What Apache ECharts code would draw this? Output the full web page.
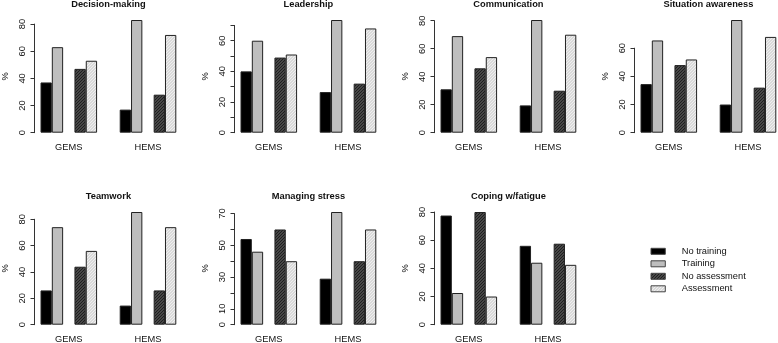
<!DOCTYPE html>
<html>
<head>
<meta charset="utf-8">
<script src="https://cdn.jsdelivr.net/npm/echarts@6/dist/echarts.min.js"></script>
<style>
  html, body { margin: 0; padding: 0; background: #fff; }
  #chart { width: 778px; height: 343px; }
</style>
</head>
<body>
<div id="chart"></div>
<script>
// panels and groups
let panels = ['Decision-making', 'Leadership', 'Communication', 'Situation awareness',
              'Teamwork', 'Managing stress', 'Coping w/fatigue'];
let groups = ['GEMS', 'HEMS'];
let seriesNames = ['No training', 'Training', 'No assessment', 'Assessment'];

// % per panel, [GEMS, HEMS]
let noTraining   = [[37, 17], [40, 26.5], [31, 19.5], [34.5, 20], [26, 14.5], [54, 29], [77.5, 56]];
let training     = [[63, 83], [60, 73.5], [69, 80.5], [65.5, 80], [74, 85.5], [46, 71], [22.5, 44]];
let noAssessment = [[47, 28], [49, 32], [46, 30], [48, 32], [44, 26], [60, 40], [80, 57.5]];
let assessment   = [[53, 72], [51, 68], [54, 70], [52, 68], [56, 74], [40, 60], [20, 42.5]];

// y axis ticks
let yTickMax = [80, 70, 80, 60, 80, 70, 80];
let yTickStep = [20, 10, 20, 20, 20, 10, 20];
let yTickLabels = [[0, 20, 40, 60, 80], [0, 20, 40, 60], [0, 20, 40, 60, 80], [0, 20, 40, 60],
                   [0, 20, 40, 60, 80], [0, 10, 30, 50, 70], [0, 20, 40, 60, 80]];

let font = "'Liberation Sans', Arial, Helvetica, sans-serif";
let txt = '#111';

function hatch(bg, line) {
  let c = document.createElement('canvas');
  c.width = 3; c.height = 3;
  let ctx = c.getContext('2d');
  ctx.fillStyle = bg;
  ctx.fillRect(0, 0, 3, 3);
  ctx.fillStyle = line;
  for (let i = 0; i < 3; i++) ctx.fillRect(i, 2 - i, 1, 1);
  return { image: c, repeat: 'repeat' };
}
let fills = ['#000000', '#bebebe', hatch('#474747', '#1e1e1e'), hatch('#d9d9d9', '#efefef')];

// bar slots: 12 equal slots per panel, gaps in between pairs/groups
let slots = [[0, 7], [1, 8], [3, 10], [4, 11]];
let slotNames = [];
for (let k = 0; k < 12; k++) slotNames.push('s' + k);
let slotLabels = slotNames.map(() => '');
slotLabels[2] = groups[0];
slotLabels[9] = groups[1];

let rowZero = [132.7, 324.7];
let plotH = 121.7;
let gridW = 135.8;

let grids = [], xAxes = [], yAxes = [], series = [], graphics = [];
let valueSets = [noTraining, training, noAssessment, assessment];

panels.forEach(function (title, i) {
  let row = Math.floor(i / 4), col = i % 4;
  let maxVal = Math.max.apply(null, valueSets.map(v => Math.max.apply(null, v[i])));
  let scale = plotH / (1.08 * maxVal);
  let zero = rowZero[row];
  let left = 40.5 + 200 * col;
  let top = zero - yTickMax[i] * scale;

  grids.push({ left: left, top: top, width: gridW, height: zero - top, outerBoundsMode: 'none' });

  xAxes.push({
    gridIndex: i, type: 'category', data: slotNames,
    axisLine: { show: false }, axisTick: { show: false }, splitLine: { show: false },
    axisLabel: { interval: 0, margin: 10, fontSize: 9.3, fontFamily: font, color: txt,
                 formatter: (v, idx) => slotLabels[idx] }
  });

  yAxes.push({
    gridIndex: i, type: 'value', min: 0, max: yTickMax[i], interval: yTickStep[i], offset: 6,
    axisLine: { show: true, lineStyle: { color: '#333', width: 1 } },
    axisTick: { show: true, length: 4, lineStyle: { color: '#333', width: 1 } },
    splitLine: { show: false },
    axisLabel: { rotate: 90, margin: 8, fontSize: 9.3, fontFamily: font, color: txt,
                 formatter: v => yTickLabels[i].indexOf(v) >= 0 ? String(v) : '' }
  });

  valueSets.forEach(function (vals, k) {
    let data = slotNames.map(() => '-');
    vals[i].forEach((v, g) => { data[slots[k][g]] = v; });
    series.push({
      type: 'bar', name: seriesNames[k], xAxisIndex: i, yAxisIndex: i, stack: 'p' + i,
      data: data, barCategoryGap: '0%', clip: false, silent: true,
      itemStyle: { color: fills[k], borderColor: '#222', borderWidth: 1 }
    });
  });

  // title and y name
  graphics.push({
    type: 'text', x: left + gridW / 2, y: zero - 128,
    style: { text: title, fontSize: 9.3, fontWeight: 'bold', fontFamily: font, fill: txt,
             align: 'center', verticalAlign: 'middle', textAlign: 'center', textVerticalAlign: 'middle' }
  });
  graphics.push({
    type: 'text', x: left - 6 - 29.3, y: zero - 56.3, rotation: Math.PI / 2,
    style: { text: '%', fontSize: 9.3, fontFamily: font, fill: txt,
             align: 'center', verticalAlign: 'middle', textAlign: 'center', textVerticalAlign: 'middle' }
  });
});

// legend in the empty 8th cell
seriesNames.forEach(function (name, k) {
  let cy = 251.3 + 12.5 * k;
  graphics.push({
    type: 'rect', shape: { x: 651, y: cy - 3, width: 14.3, height: 6 },
    style: { fill: fills[k], stroke: '#444', lineWidth: 1 }
  });
  graphics.push({
    type: 'text', x: 681.7, y: cy,
    style: { text: name, fontSize: 9.3, fontFamily: font, fill: txt,
             align: 'left', verticalAlign: 'middle', textAlign: 'left', textVerticalAlign: 'middle' }
  });
});

let option = {
  animation: false,
  backgroundColor: '#fff',
  grid: grids,
  xAxis: xAxes,
  yAxis: yAxes,
  series: series,
  graphic: graphics
};

let myChart = echarts.init(document.getElementById('chart'));
myChart.setOption(option);
window.addEventListener('resize', function () { myChart.resize(); }, false);
</script>
</body>
</html>
